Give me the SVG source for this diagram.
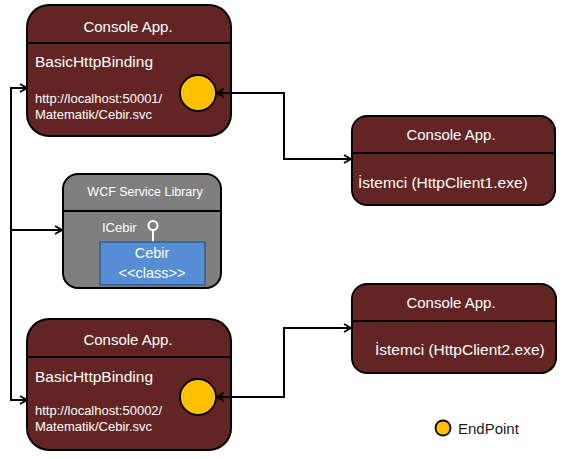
<svg xmlns="http://www.w3.org/2000/svg" width="563" height="459" viewBox="0 0 563 459">
<style>
.node{fill:#632523;stroke:#000;stroke-width:2}
.hdr{stroke:#000;stroke-width:2}
.t{font-family:"Liberation Sans",Arial,sans-serif;fill:#fff}
.ep{fill:#ffc000;stroke:#000;stroke-width:1.8}
.conn{fill:none;stroke:#000;stroke-width:2}
</style>
<defs>
<marker id="ah" viewBox="0 0 10 10" refX="9" refY="5" markerWidth="10" markerHeight="10" markerUnits="userSpaceOnUse" orient="auto-start-reverse">
<polyline points="2,1 9,5 2,9" fill="none" stroke="#000" stroke-width="1.8"/>
</marker>
</defs>
<rect width="563" height="459" fill="#fff"/>
<g id="server1">
<rect class="node" x="27" y="5" width="204" height="131" rx="22"/>
<line class="hdr" x1="27" y1="43" x2="231" y2="43"/>
<text class="t" x="128" y="32" font-size="15" text-anchor="middle">Console App.</text>
<text class="t" x="35" y="67" font-size="15.5">BasicHttpBinding</text>
<text class="t" x="35" y="103" font-size="13">http://localhost:50001/</text>
<text class="t" x="35" y="119" font-size="13">Matematik/Cebir.svc</text>
<circle class="ep" cx="198" cy="93" r="18"/>
</g>
<g id="wcf">
<rect x="63" y="174" width="158" height="114" rx="15" fill="#7f7f7f" stroke="#000" stroke-width="2"/>
<line class="hdr" x1="63" y1="211" x2="221" y2="211"/>
<text class="t" x="145" y="196" font-size="12.5" text-anchor="middle">WCF Service Library</text>
<text class="t" x="102" y="232" font-size="13">ICebir</text>
<line x1="153" y1="230" x2="153" y2="242" stroke="#fff" stroke-width="2"/>
<circle cx="153" cy="225.5" r="4.5" fill="none" stroke="#fff" stroke-width="2"/>
<rect x="100" y="242" width="105" height="43" fill="#558ed5" stroke="#385d8a" stroke-width="1.5"/>
<text class="t" x="152" y="258" font-size="14.5" text-anchor="middle">Cebir</text>
<text class="t" x="152" y="278" font-size="14.5" text-anchor="middle">&lt;&lt;class&gt;&gt;</text>
</g>
<g id="server2">
<rect class="node" x="27" y="319" width="204" height="131" rx="22"/>
<line class="hdr" x1="27" y1="357" x2="231" y2="357"/>
<text class="t" x="128" y="345" font-size="15" text-anchor="middle">Console App.</text>
<text class="t" x="35" y="382" font-size="15.5">BasicHttpBinding</text>
<text class="t" x="35" y="415" font-size="13">http://localhost:50002/</text>
<text class="t" x="35" y="431" font-size="13">Matematik/Cebir.svc</text>
<circle class="ep" cx="198" cy="397" r="18"/>
</g>
<g id="client1">
<rect class="node" x="352" y="116" width="203" height="89" rx="15"/>
<line class="hdr" x1="352" y1="153" x2="555" y2="153"/>
<text class="t" x="451" y="140" font-size="15" text-anchor="middle">Console App.</text>
<text class="t" x="358" y="188" font-size="15.5">İstemci (HttpClient1.exe)</text>
</g>
<g id="client2">
<rect class="node" x="352" y="284" width="204" height="89" rx="15"/>
<line class="hdr" x1="352" y1="321" x2="556" y2="321"/>
<text class="t" x="451" y="308" font-size="15" text-anchor="middle">Console App.</text>
<text class="t" x="375" y="355" font-size="15.5">İstemci (HttpClient2.exe)</text>
</g>
<g id="legend">
<circle class="ep" cx="443" cy="428" r="7.5" stroke-width="1.5"/>
<text x="458" y="434" font-size="15" font-family="'Liberation Sans',Arial,sans-serif" fill="#1a1a1a">EndPoint</text>
</g>
<g id="connectors">
<polyline class="conn" points="27,88 11,88 11,400 27,400" marker-start="url(#ah)" marker-end="url(#ah)"/>
<line class="conn" x1="11" y1="230" x2="62" y2="230" marker-end="url(#ah)"/>
<polyline class="conn" points="217,93 284,93 284,159 351,159" marker-start="url(#ah)" marker-end="url(#ah)"/>
<polyline class="conn" points="217,397 284,397 284,328 351,328" marker-start="url(#ah)" marker-end="url(#ah)"/>
</g>
</svg>
